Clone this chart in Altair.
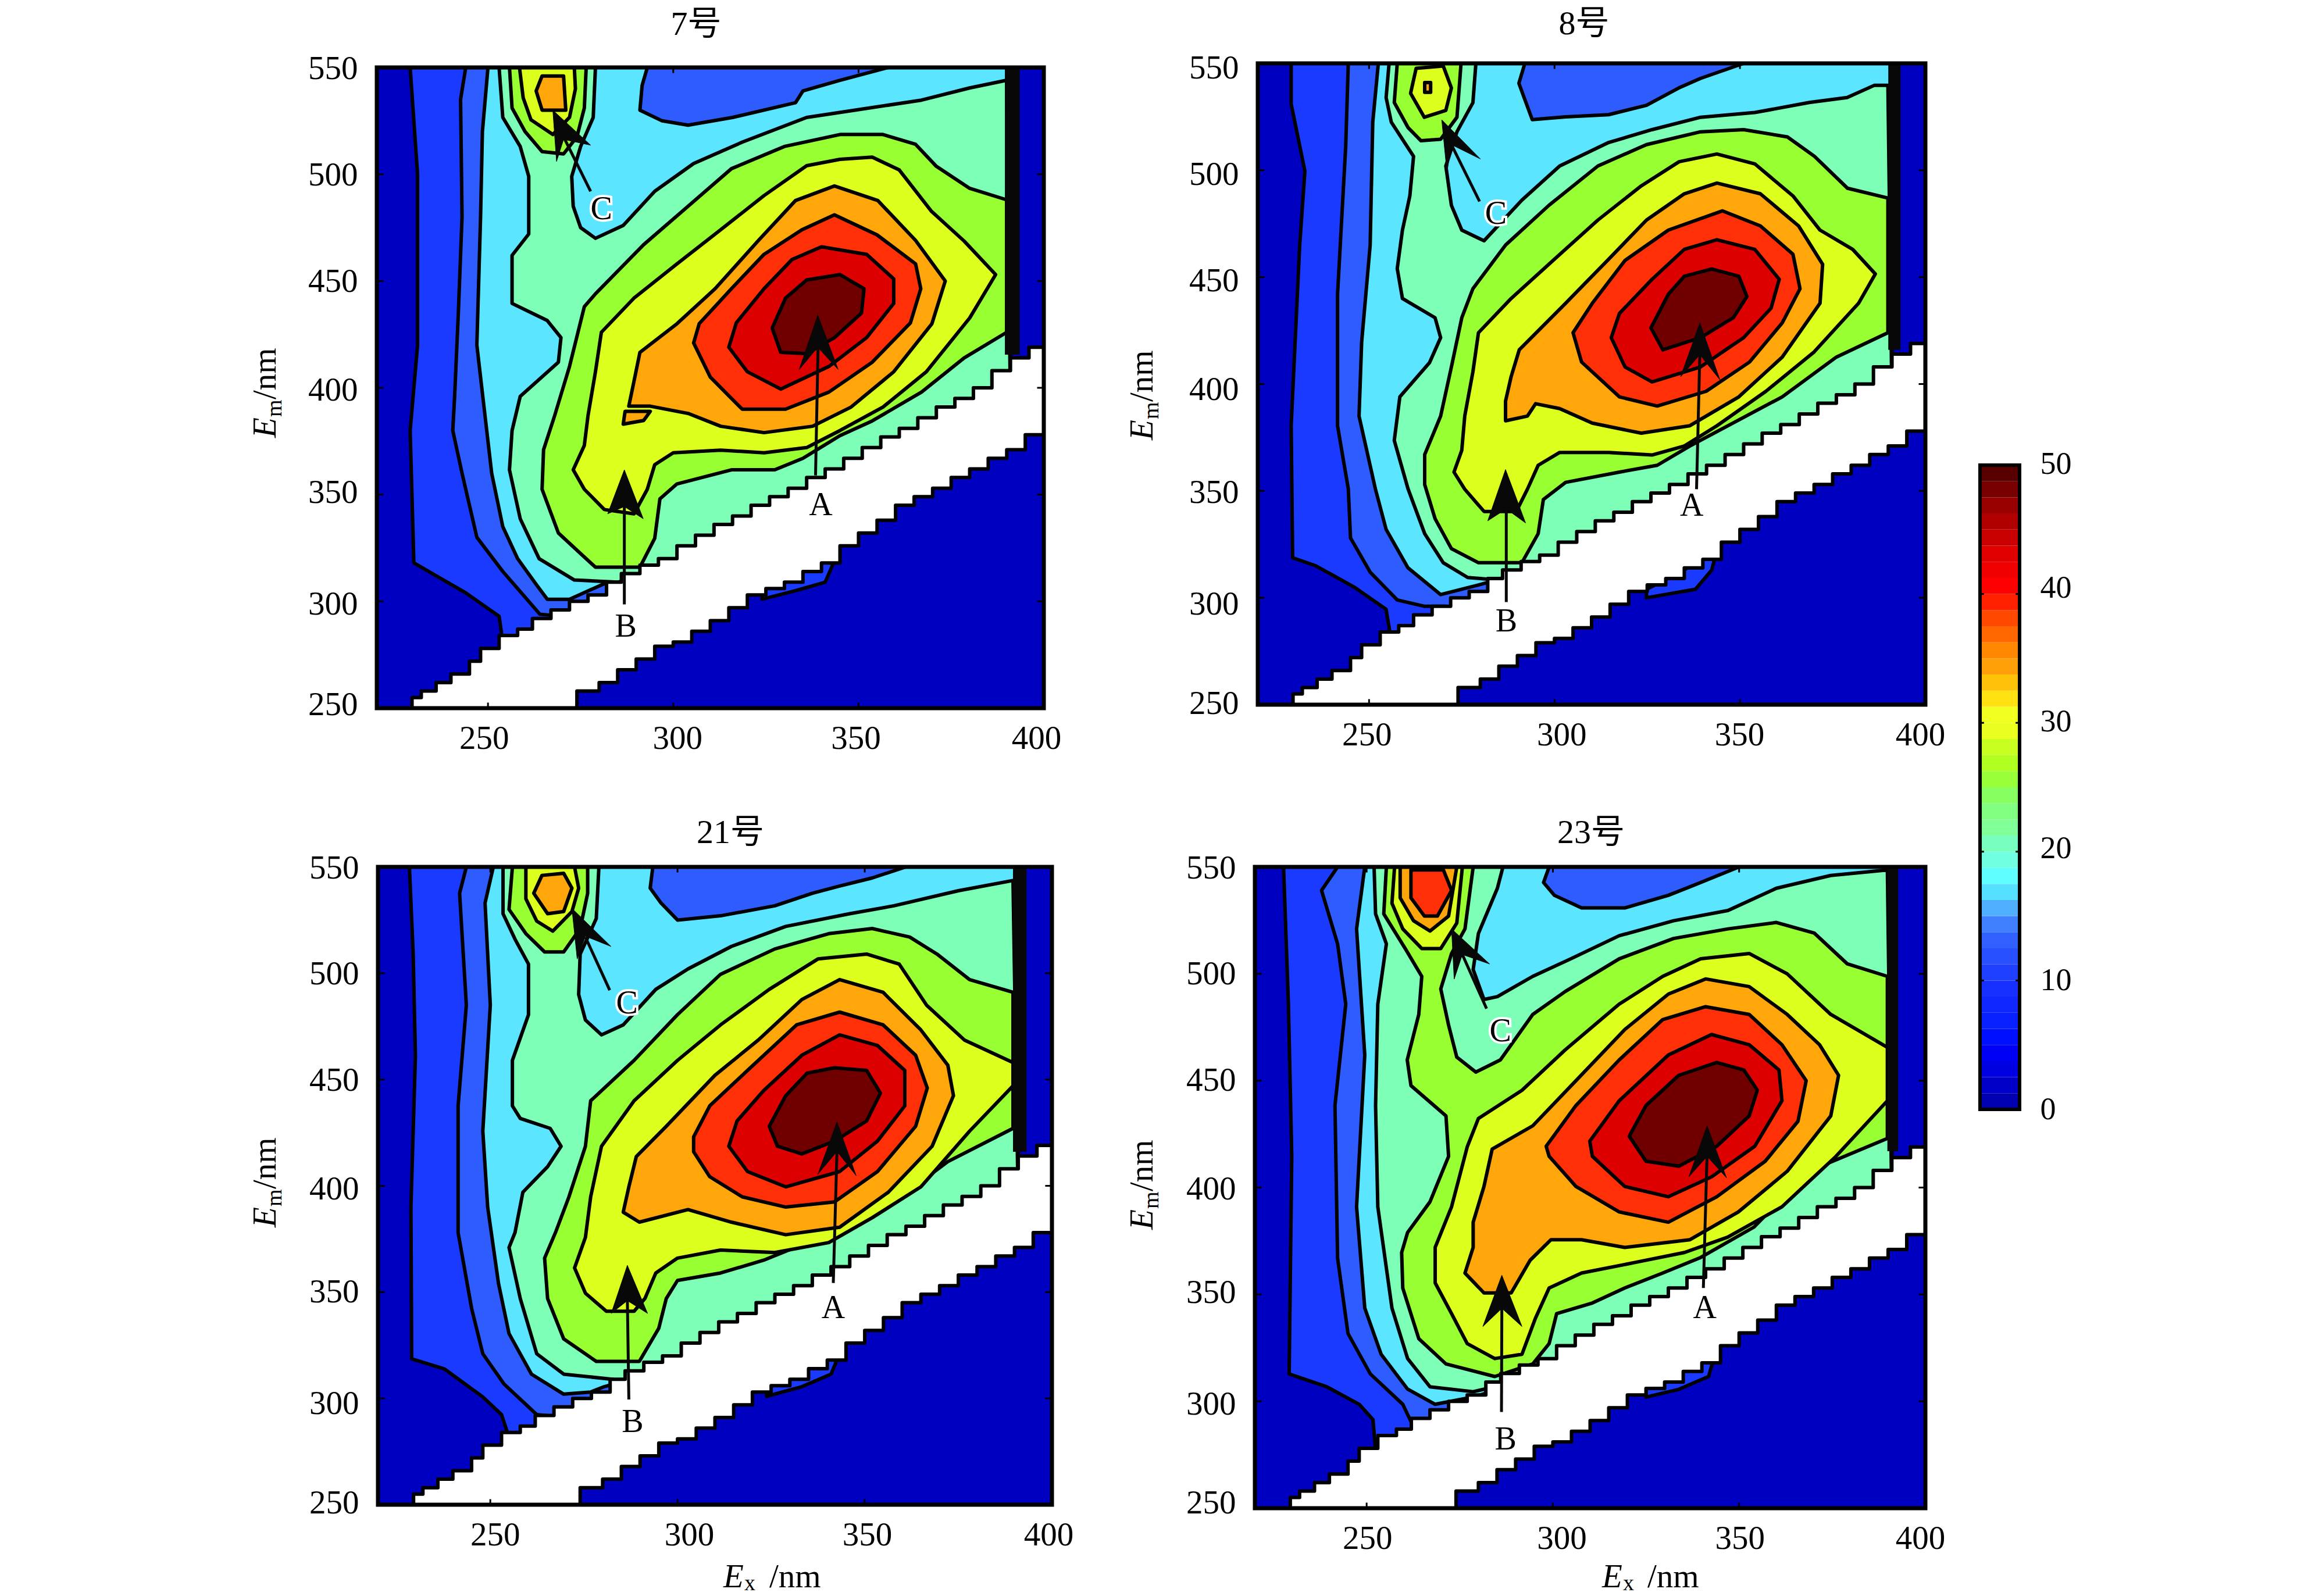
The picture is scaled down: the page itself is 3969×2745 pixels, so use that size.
import altair as alt
import pandas as pd

SERIF = "Liberation Serif"
CJK = "Liberation Serif, Noto Sans CJK SC"
C = ["#0000C0", "#1A3AFF", "#2E5CFF", "#5CE5FF", "#7DFFB8", "#98FF33", "#DCFF1E", "#FFA60A", "#FF3008", "#DC0000", "#700000"]
UNDER = [(275, 280), (340, 335), (391, 390)]

# ---------- band without data (stair corners, shared grid) ----------
upper_x = [229.5,232,236,240,245,248,253,258,262,267,272,277,282,286,291,296,301,306,311,316,321,326,331,336,341,346,351,356,361,366,371,376,381,386,391,396,400]
upper_y = [250,255,258,262,266,272,278,284,287,292,296,300,303,309,313,317,320,326,331,336,340,345,349,353,358,362,367,372,377,381,386,391,395,400,408,414,419]
lower_x = [274,280,285,290,295,300,305,310,315,320,325,330,335,340,345,350,355,360,365,370,375,380,385,390,395,400]
lower_y = [254,258,262,268,273,279,281,286,291,297,303,306,309,314,318,326,332,338,345,349,353,358,362,367,371,378]

# ---------- panel 7 ----------
P7_C1 = [(229,550),(231,500),(231,420),(229,380),(230,318),(244,304),(253,293),(254,281)]
P7_C2 = [(244,550),(242.6,535),(243,480),(242,435),(241,396),(240.5,380),(243,360),(247,330),(254,314),(264,294),(270,293),(276,296)]
P7_C3 = [(250,550),(248.5,520),(248,480),(247,420),(249,390),(251,360),(254,335),(258,320),(263,308),(266,301),(272,301),(281,308)]
P7_PATCH = [(358,550),(345,544),(335,539),(333,533.5),(316,526.6),(304,523),(297,525),(291,530),(291.6,541.6),(293,550)]
P7_C4L = [(253,550),(254,526.6),(258.7,513),(261,499),(261,472),(256.5,462),(256.5,439.5),(266,431.5),(269.7,423.5),(269,412),(258.7,396),(256.5,380),(255.8,361.6),(258.7,338.7),(263.8,320),(273.3,310),(285,309)]
P7_C4R = [(390,544),(380,540.4),(367,534.7),(349,530),(336,526.6),(318.6,515),(305.5,505),(295,492),(286.5,476),(279,470),(275,475),(273,485),(272.6,499),(275,513),(278.4,526.6),(279,550)]
P7_C5 = [(390,488),(380,493.4),(371,503.7),(365.4,514),(356.6,518.6),(345,518.6),(330,513),(315.7,502.6),(304,485),(292,467),(279,444),(276,438),(272,410),(268,387),(265,371),(264.6,352.5),(269,332),(274.8,322.7),(279,316),(291,316),(295,329.5),(296.4,348),(301,355),(315.7,361.6),(327.4,361.6),(335,367),(345,377.6),(353.7,384.5),(367,398),(378.5,414),(390,426)]
P7_C5P = [(255.8,550),(256.5,531),(260,520),(264.6,510.6),(270.4,509.5),(274,517.5),(276,531),(276.5,550)]
P7_C6 = [(353.7,508),(361,502),(369.7,482.6),(378.5,468.7),(387,453),(380,432.7),(368.3,407.5),(356.6,391),(345,380),(336,372),(324.5,369.6),(312.8,370.8),(300,369.6),(295,364),(293,352.5),(289.4,341),(281.4,343),(276,352.5),(273,361.6),(276,373),(277,387),(279,407.5),(280.6,426),(289.4,442),(301,458),(312.8,474),(324.5,490),(336,504),(345,507)]
P7_C6P = [(258.5,550),(259.5,535.8),(261.6,525.5),(267.5,518.6),(272,526.6),(273.6,540),(273.3,550)]
P7_C7 = [(343.5,494.5),(355.2,487.7),(365.4,469),(373.4,450),(369.8,430),(359.5,407.5),(348,391),(337.6,382),(324.5,379),(312.8,382),(304,388),(293.8,391.4),(288,391.4),(289.4,403),(291,416.6),(301,430),(311.3,446.4),(323,469),(333,487.7)]
P7_C7I = [(286.5,383),(292,384.7),(293.8,389),(287,389)]
P7_C7P = [(264.6,546),(270.4,546),(271,530),(264.6,530),(263,539)]
P7_C8 = [(343.5,481),(355,471.6),(365.4,458),(366.8,446.4),(364,430.4),(353.7,412),(342,398),(330.3,390),(318.6,390),(310,405),(305.5,421),(307,430),(315.7,446.4),(324.5,462.5),(334.7,474)]
P7_C9 = [(340,466),(352.2,462.5),(359.5,451),(359.5,439.5),(352.2,423.5),(342,410),(329,399.4),(320,407.5),(315,419),(317,430.4),(324.5,446.4),(332,460)]
P7_C10 = [(336,450.5),(345,453),(351.5,446.4),(350.8,435),(343.5,423.5),(336,416),(329,416.6),(326.7,428),(330.3,442)]
P7_ISLE = [(324,306),(334,314),(344,324),(343,317),(341,309),(333,305),(324,301)]
P7_A = dict(shaft=[(338.4,359),(339.1,421)], head=[(339,434),(334,408.6),(339,419),(344.5,408.6)], lab=(339.8,345))
P7_B = dict(shaft=[(286.8,298.6),(286.8,345)], head=[(286.8,361.6),(282.3,341),(286.8,344.4),(291.9,338.7)], lab=(287.2,288))
P7_K = dict(shaft=[(277.7,492),(270.4,517.5)], head=[(267.5,530),(277.7,513.6),(270.4,516.3),(268.5,506)], lab=(280.6,483.5))

# ---------- panel 8 ----------
P8_C1 = [(229,550),(229,531),(232.7,499.6),(231.3,465),(229,380.5),(229.4,318.7),(235.6,315),(246,305),(254.6,294.6),(255.8,282)]
P8_C2 = [(244.4,550),(243.7,511),(241.5,442),(241.5,380.5),(244.4,351),(245,328),(250.3,312),(257.6,299),(265,296),(270.7,296)]
P8_C3 = [(252.5,550),(251,522.5),(250.3,465),(248,419.5),(247.3,385),(251.7,351),(254.6,332),(260.5,314),(269.3,301.5),(279.5,306)]
P8_PATCH = [(351,550),(339.4,543),(333.5,538.5),(324.8,530.4),(314.6,526),(303,525),(294,523.7),(291.8,534),(290.4,540.7),(292,550)]
P8_C4L = [(255.4,550),(254.6,534),(256,522.5),(262,506.5),(261,488),(259,472),(257.6,454),(259,440),(267.8,431),(269.3,421.7),(266.3,410),(258.3,394),(256.8,373.6),(260.5,351),(265,330),(270,316.4),(276.6,309.5),(284,308.4)]
P8_C4R = [(389.9,539.7),(386.2,539.7),(378.9,534),(368.7,531.7),(354,527),(339.4,524.8),(326.3,519),(314.6,513),(301.4,502),(291.2,486),(281,467),(275,472),(272.2,483.6),(270.7,502),(273.7,518),(278,531.6),(278.8,550)]
P8_C5 = [(389.9,487),(379,491.6),(370.1,506.5),(362.8,515.6),(351,519),(339.4,518),(324.8,512),(311.7,502),(298.5,483.6),(286.8,465),(278,444.6),(275,431),(272.2,408),(269.3,385),(265,367),(265,353),(267.8,337),(272.2,323),(279.5,316.4),(291.2,316.4),(295.6,330),(297,346),(303,354),(317.5,358.8),(327.7,362),(336.5,371),(346.8,380.5),(361.4,394),(376,412.6),(389.9,424)]
P8_C5P = [(257.6,550),(256.8,531.7),(260.5,520),(264,513.8),(269.3,514.5),(273.7,524.8),(274.8,550)]
P8_C6 = [(386.5,451.5),(380.4,463),(371.6,472),(364.3,488),(354,503),(343.8,507.6),(333.6,504),(323.4,492.7),(311.7,476.7),(300,458.4),(288.3,440),(279.5,424),(278,405.7),(275.8,385),(275,369),(272.9,358.8),(275.8,350.8),(281,340.4),(289.7,340.4),(292.7,350.8),(295.6,362),(301.4,368),(314.6,368),(326.3,366.8),(335,371),(343.8,380.5),(357,396.6),(370,415),(382,437.8)]
P8_C6P = [(262.7,547.7),(270,548.8),(272.2,538.5),(270.7,528),(264.9,524.8),(261.2,536)]
P8_C7 = [(343.8,494),(355.5,489),(365.8,474),(372.3,456),(371.6,437.8),(361.4,412.6),(349.7,394),(336.5,380.5),(323.4,377),(310.2,381.7),(301.4,388.5),(294.9,390.8),(292.7,385),(286.8,382.8),(286.8,392),(288.3,403.4),(290.5,416),(303,437.8),(314.6,458.4),(324.8,476.7),(335,489)]
P8_C7P = [(265,541),(266.6,541),(266.6,536.5),(265,536.5)]
P8_C8 = [(345.3,481),(355.5,474),(364.3,460.7),(366.2,444.6),(361.4,428.6),(352.6,410.3),(340.9,396.6),(327.7,389.7),(317.5,394),(307.3,410.3),(305,424),(310.2,437.8),(319,457.8),(330.7,472)]
P8_C9 = [(343.8,467.5),(354,463),(360.6,449),(358.4,435.5),(351,421.7),(339.4,408),(326.3,401),(319,408),(315.3,421.7),(317.5,433),(326.3,449),(335,463)]
P8_C10 = [(342.4,453.8),(349.7,450.4),(351.9,441),(348.2,431),(339.4,421.7),(329.2,416),(326,426.3),(330.7,442),(335,450.4)]
P8_ISLE = [(324.8,304),(335,313),(344,324),(342.4,313),(338,304),(324.8,300)]
P8_A = dict(shaft=[(338.3,350.8),(339.2,415)], head=[(339.2,428.6),(334,403.4),(339.2,413.7),(344.6,402)], lab=(337,343))
P8_B = dict(shaft=[(287,298),(287,342)], head=[(286.8,360),(282,336),(287,341.6),(292.2,335)], lab=(287,289))
P8_K = dict(shaft=[(279.8,485.4),(272.2,512)], head=[(269.6,523.6),(280,505.3),(272.2,512),(271,499)], lab=(284.2,479.5))

# ---------- panel 21 ----------
P21_C1 = [(228.4,550),(229.4,509),(230,461),(228.8,390),(229,318.6),(237.8,313.8),(248,300.7),(253,292.4),(255,281.7)]
P21_C2 = [(243.6,550),(241.8,537.6),(243.6,485),(241.4,437.6),(241.4,378),(245,342.4),(248,321),(253.7,306.7),(262.4,292.4),(269.6,291)]
P21_C3 = [(250.8,550),(248.6,533),(250,485),(248,425.7),(249.3,390),(252.2,354),(255,330.5),(261,311.4),(269.6,302),(276.8,303),(280.4,305.5)]
P21_PATCH = [(361,550),(352,544.8),(343.3,541),(336,537.6),(326,531.7),(311.5,527),(300,525),(295.6,533),(292.7,540),(293.4,550)]
P21_C4L = [(253.4,550),(253.4,528),(256.6,516),(260.2,504.3),(260.2,480.5),(255.9,459),(255.9,437.6),(258,431.7),(266,427),(268.9,418.6),(265.3,409),(258.7,397),(256.6,378),(255,371),(258,347),(262.4,321),(269.6,311.4),(282.6,309),(291,305)]
P21_C4R = [(389.6,543.6),(375,538.8),(357.8,531.7),(346,528),(328.9,522),(314.4,512.6),(302.8,502),(294.2,492.4),(285.5,475.7),(279.7,471),(275.4,478),(273.6,490),(274,509),(278.3,525.7),(279,550)]
P21_C5 = [(389.6,491),(378,497),(369.3,509),(362,517),(352,521),(340.4,518.6),(326,511.4),(311.5,499.5),(300,480.5),(288.4,459),(276.8,440),(275.4,418.6),(271,394.8),(267.4,378),(264.5,366),(265.3,347),(269.6,328),(278.3,317.4),(289.8,317.4),(295,333),(297,347),(300,355.5),(311.5,359),(323,365),(334.6,373.3),(344.8,380.5),(357.8,392.4),(372.2,411.4),(389.6,427)]
P21_C5P = [(255.9,550),(255,530),(259.5,518.6),(264.5,510),(269.6,510),(274,521),(276,537.6),(276,550)]
P21_C6 = [(350.5,509),(359.2,504.3),(366.5,485),(376.6,468.6),(389.6,458),(389.6,447),(378,425.7),(365,399.5),(352,385),(340.4,373.3),(326,368.6),(311.5,369.8),(300,366),(294.2,359),(291.3,347),(288.4,341),(281,341),(275.4,349.5),(272.5,361.4),(275.4,375.7),(276.8,394.8),(279.7,418.6),(288.4,440),(300,459),(311.5,475.7),(324.5,492.4),(337.5,506.7)]
P21_C6P = [(259.5,550),(259.5,535),(262.4,524.5),(266.7,519.8),(271.8,529),(273.6,540),(272.5,550)]
P21_C7 = [(343.3,497),(354.9,491),(365,473.3),(372.2,456.7),(373.7,442.4),(368,418.6),(356.3,397),(343.3,380.5),(328.9,377),(314.4,382.9),(302.8,388.8),(289.8,382.9),(285.5,387.6),(287,399.5),(289,413.8),(297,428),(310,452),(321.6,468.6),(333.2,487.6)]
P21_C7P = [(263.8,546),(269.6,547),(271.8,540),(269.6,529),(265.3,528),(261.6,537.6)]
P21_C8 = [(343.3,481.7),(354.9,475.7),(363.6,461.4),(366.7,446),(363.6,428),(353.4,406.7),(341.9,392.4),(328.9,390),(317.3,394.8),(308.6,404.3),(304.3,416),(304.3,423),(308.6,437.6),(318.7,454.3),(331.8,475.7)]
P21_C9 = [(343.3,471),(353.4,466),(360.7,454.3),(360.7,437.6),(353.4,421),(343.3,406.7),(328.9,399.5),(318.7,406.7),(313.7,418.6),(315.9,430.5),(323,444.8),(333.2,461.4)]
P21_C10 = [(341.9,455.5),(350.5,454.3),(354.2,443.6),(350.5,430.5),(341.9,421),(333.2,415),(326.7,418.6),(324.5,428),(328.9,442.4),(334.6,453)]
P21_ISLE = [(323.8,306),(335,314),(344,324),(341,311.4),(333.2,305.5),(323.8,301)]
P21_A = dict(shaft=[(341.6,354.3),(342.6,417)], head=[(342.6,430),(337.5,405.5),(342.6,416.2),(347.7,404.8)], lab=(341.6,342.4))
P21_B = dict(shaft=[(287,299.5),(286.6,347)], head=[(286.6,362.6),(282.3,340),(286.6,346),(292,340)], lab=(288,288.8))
P21_K = dict(shaft=[(281.9,492),(275.4,517)], head=[(271.8,530.5),(282.2,512.6),(275.4,517.4),(273.2,506.7)], lab=(286.5,485.7))

# ---------- panel 23 ----------
P23_C1 = [(227.7,550),(229,485.8),(229.9,414.6),(229.2,312.8),(239.3,306.8),(248,298.6),(251.7,291.5),(252.4,277)]
P23_C2 = [(242.2,550),(237.9,539),(242.2,514),(244.4,485.8),(241.5,438.4),(242.2,367),(245,331.7),(251,312.8),(259.7,298.6),(262.6,288),(268.4,291.5)]
P23_C3 = [(249.5,550),(247.3,521),(249.5,462),(247.3,391),(249.5,343.6),(253.9,322),(261,305.7),(268.4,298.6),(278.6,302)]
P23_PATCH = [(350,550),(339.7,542.7),(331,536.7),(319.3,530.8),(307.7,530.8),(300.4,536.7),(297.5,542.7),(299,550)]
P23_C4L = [(252,550),(252.4,528),(255.3,514),(253,485.8),(252.4,438.4),(253,391),(256.8,343.6),(261,320),(267,306.8),(278.6,304.5),(287.3,308)]
P23_C4R = [(389.8,548.6),(374.6,546),(360,540),(347,529.6),(332.4,524.8),(317.8,517.8),(304.8,507),(294.6,498.8),(285.1,489.3),(281.5,488),(278.6,502),(280,518.8),(285.1,540),(286.6,550)]
P23_C5 = [(255.3,550),(254.6,528),(260.4,511.7),(264.8,498.8),(264,481),(260.9,459.7),(261.9,447.7),(271.3,433.5),(272,414.6),(267,393.3),(261,379),(259.4,369.6),(259.7,353),(264,329.3),(271.3,317.5),(284.4,311.6),(294.6,317.5),(299,327),(301,341),(310.6,346),(319.3,353),(329.5,360),(339.7,367.3),(354,381.5),(368.7,407.6),(389.8,423),(389.8,498.8),(379,504.7),(370.2,519),(360,524),(347,521),(332.4,516.5),(317.8,507),(303.3,491.7),(294.6,481),(285.9,459.7),(279.3,454),(274.2,461),(272,476),(269.9,492.9),(272.8,509.5),(276.4,521),(278.6,550)]
P23_C6 = [(339.7,507),(352.7,509.5),(362.9,500),(374.6,481),(389.8,465.6),(389.8,440.6),(376,414.6),(361.5,391),(346.9,376.8),(335.3,369.6),(322.2,365),(307.7,360),(299,353),(295.3,338.8),(291.7,322),(284.4,320),(277,327),(272.8,341),(268.4,355.4),(268.4,372),(272.8,391),(277,419),(280,432.3),(291.7,445.5),(303.3,464.4),(317.8,485.8),(329.5,498.8)]
P23_C6P = [(257.5,550),(256.8,533),(259.7,521),(264.8,511.8),(269.9,511.8),(274.2,523.7),(275.7,550)]
P23_C7 = [(341,497.6),(352.7,494),(362.9,481),(371.6,466.8),(376.7,452.5),(374.6,433.5),(362.9,407.6),(349.8,388.6),(336.8,375.6),(319.3,372),(307.7,375.6),(299.5,375.6),(293.9,366),(288.8,350.7),(281.5,350.7),(276.4,360),(278.6,372),(278.6,383.8),(281.5,400.5),(283.7,418),(294.6,428.9),(306.2,450),(319.3,473.9),(331,490.5)]
P23_C7P = [(259,550),(259,535.5),(262.6,524.8),(267,520),(272,527),(274.2,550)]
P23_C8 = [(341,484.6),(352.7,481),(361.5,466.8),(368,450),(365.8,431),(357,412.3),(344,395.7),(331,383.8),(317.8,388.6),(306.2,400.5),(299,414.6),(298.2,419.3),(306.2,438.4),(317.8,459.7),(329.5,478.6)]
P23_C8P = [(261.9,548.6),(270.6,548.6),(272.8,539),(269,527),(265.5,527),(261.9,535.5)]
P23_C9 = [(342.6,471.6),(352.7,466.8),(360.7,455),(361.5,440.6),(354.2,419.3),(342.6,405),(331,395.7),(319.3,400.5),(310.6,414.6),(309.9,421.7),(317.8,440.6),(331,462)]
P23_C10 = [(344,458.5),(351.3,455),(354.9,445.5),(352.7,433.5),(344,419.3),(333.8,410),(325,412.3),(320.5,424),(325,438.4),(333.8,452.5)]
P23_ISLE = [(325,307),(335,314),(344,325),(341.8,311.6),(333.8,305.6),(325,302)]
P23_A = dict(shaft=[(340.4,353),(341.4,416)], head=[(341.4,428.8),(336.5,405),(341.4,414.6),(346.6,404.6)], lab=(340.8,343.5))
P23_B = dict(shaft=[(286.2,295),(286.3,345)], head=[(286.3,359),(281.2,335),(286.3,343.5),(291.7,335)], lab=(287.3,282))
P23_K = dict(shaft=[(282.2,483.7),(275.7,509)], head=[(272.8,521),(283,504.6),(275.7,509),(273.5,497.5)], lab=(285.9,473))

# colour bar
cb_colors = ["#0000B0","#0000C8","#0000E0","#0000F5","#0010FF","#0820FF","#1028FF","#1830FF",
             "#2040FF","#2850FF","#3060FF","#4080FF","#50B0FF","#55E0FF","#60FFFF","#70FFE0",
             "#78FFC0","#80FF99","#80FF80","#88FF60","#98FF38","#B0FF20","#C8FF20","#E8FF20",
             "#F0FF20","#FFE010","#FFC008","#FFA008","#FF8800","#FF6800","#FF4800","#FF2000",
             "#FF0000","#F00000","#E00000","#C80000","#B00000","#980000","#780000","#580000"]

W, H, M = 3953, 2737, 8
LBL = "datum.value=={}?{}:datum.value=={}?{}:datum.value=={}?{}:{}"


def x_expr(a, b, c, d):
    return {"expr": LBL.format(250, a, 300, b, 350, c, d)}


def y_expr(vals):
    e = str(vals[-1])
    for v, o in zip([550, 500, 450, 400, 350, 300], vals[:-1]):
        e = f"datum.value=={v}?{o}:" + e
    return {"expr": e}


def with_under(left, tail):
    return left + [p for p in UNDER if p[0] > left[-1][0]] + tail


def stair(xs, ys):
    out = [(xs[0], ys[0])]
    for i in range(1, len(xs)):
        out.append((xs[i - 1], ys[i]))
        out.append((xs[i], ys[i]))
    return out


def panel(frame, xoff, yoff, polys, isle, strip, arrows):
    L, R, T, B = frame
    sx = alt.Scale(domain=[220, 400], range=[L - M, R - M], nice=False, zero=False)
    sy = alt.Scale(domain=[250, 550], range=[B - M, T - M], nice=False, zero=False)
    ax = alt.Axis(values=[250, 300, 350, 400], labelFont=SERIF, labelFontSize=57, labelColor="black",
                  domain=False, ticks=False, grid=False, title=None, orient="bottom",
                  offset=B - M - H, labelPadding=52, labelOverlap=False, labelFlush=False,
                  labelBaseline="middle", labelOffset=x_expr(*xoff))
    ay = alt.Axis(values=[250, 300, 350, 400, 450, 500, 550], labelFont=SERIF, labelFontSize=57,
                  labelColor="black", domain=False, ticks=False, grid=False, title=None, orient="left",
                  offset=-(L - M), labelPadding=33, labelOverlap=False, labelFlush=False,
                  labelOffset=y_expr(yoff))
    X = alt.X("x:Q", scale=sx, axis=ax)
    Y = alt.Y("y:Q", scale=sy, axis=ay)
    box = pd.DataFrame({"x": [220], "x2": [400], "y": [250], "y2": [550]})
    layers = [alt.Chart(box).mark_rect(color=C[0]).encode(x=X, x2="x2:Q", y=Y, y2="y2:Q")]

    def poly(pts, fill, stroke="black", sw=6):
        d = pd.DataFrame(pts, columns=["x", "y"])
        d["i"] = range(len(d))
        return alt.Chart(d).mark_line(fill=fill, stroke=stroke, strokeWidth=sw, interpolate="linear-closed",
                                      strokeJoin="round").encode(x=X, y=Y, order="i:Q")

    for lev, pts in polys:
        layers.append(poly(pts, C[lev]))
    layers.append(poly(isle, C[1]))
    band = [(lower_x[0], 250)] + stair(lower_x, lower_y) + [(400, upper_y[-1])] + list(reversed(stair(upper_x, upper_y)))
    layers.append(poly(band, "#FFFFFF"))
    sd = pd.DataFrame({"x": [strip[0]], "x2": [strip[1]], "y": [strip[2]], "y2": [550]})
    layers.append(alt.Chart(sd).mark_rect(color="#080808").encode(x=X, x2="x2:Q", y=Y, y2="y2:Q"))
    for name, arrow in arrows.items():
        sh = pd.DataFrame(arrow["shaft"], columns=["x", "y"])
        layers.append(alt.Chart(sh).mark_line(color="#080808", strokeWidth=5).encode(x=X, y=Y))
        layers.append(poly(arrow["head"], "#080808", "#080808", 1))
        lab = pd.DataFrame({"x": [arrow["lab"][0]], "y": [arrow["lab"][1]], "t": [name]})
        if name == "C":
            layers.append(alt.Chart(lab).mark_text(font=SERIF, fontSize=56, stroke="white", strokeWidth=8,
                                                   color="white").encode(x=X, y=Y, text="t:N"))
        layers.append(alt.Chart(lab).mark_text(font=SERIF, fontSize=56, color="black").encode(x=X, y=Y, text="t:N"))
    # inward ticks on all four sides
    tx = pd.DataFrame({"x": [250, 300, 350] * 2, "y": [250] * 3 + [550] * 3, "y2": [252.6] * 3 + [547.4] * 3})
    layers.append(alt.Chart(tx).mark_rule(color="black", strokeWidth=3).encode(x=X, y=Y, y2="y2:Q"))
    ty = pd.DataFrame({"y": [300, 350, 400, 450, 500] * 2, "x": [220] * 5 + [400] * 5, "x2": [221.8] * 5 + [398.2] * 5})
    layers.append(alt.Chart(ty).mark_rule(color="black", strokeWidth=3).encode(x=X, x2="x2:Q", y=Y))
    layers.append(alt.Chart(box).mark_rect(filled=False, stroke="black", strokeWidth=7).encode(x=X, x2="x2:Q", y=Y, y2="y2:Q"))
    return alt.layer(*layers)


def build(L1, L2, L3, patch, c4l, c4r, rest):
    return [(1, with_under(L1, [(391, 550)])), (2, with_under(L2, [(391, 550)])),
            (3, with_under(L3, [(391, 550)]) + patch), (4, with_under(c4l, c4r))] + rest


p7 = panel((648, 1795, 116, 1218), (-7, 7, -5, -13), (2, 2, 1, 4, -3, 5, -6),
           build(P7_C1, P7_C2, P7_C3, P7_PATCH, P7_C4L, P7_C4R,
                 [(5, P7_C5), (5, P7_C5P), (6, P7_C6), (6, P7_C6P), (7, P7_C7), (7, P7_C7I), (7, P7_C7P),
                  (8, P7_C8), (9, P7_C9), (10, P7_C10)]),
           P7_ISLE, (389.5, 393.5, 415.5), {"A": P7_A, "B": P7_B, "C": P7_K})
p8 = panel((2163, 3311, 109, 1212), (-4, 12, -1, -9), (8, 8, 7, 10, 3, 11, -2),
           build(P8_C1, P8_C2, P8_C3, P8_PATCH, P8_C4L, P8_C4R,
                 [(5, P8_C5), (5, P8_C5P), (6, P8_C6), (6, P8_C6P), (7, P8_C7), (7, P8_C7P),
                  (8, P8_C8), (9, P8_C9), (10, P8_C10)]),
           P8_ISLE, (390, 393.3, 416), {"A": P8_A, "B": P8_B, "C": P8_K})
p21 = panel((650, 1809, 1491, 2588), (8, 20, 4, -6), (2, 2, 2, 6, 0, 9, -3),
            build(P21_C1, P21_C2, P21_C3, P21_PATCH, P21_C4L, P21_C4R,
                  [(5, P21_C5), (5, P21_C5P), (6, P21_C6), (6, P21_C6P), (7, P21_C7), (7, P21_C7P),
                   (8, P21_C8), (9, P21_C9), (10, P21_C10)]),
            P21_ISLE, (389.6, 393.2, 416), {"A": P21_A, "B": P21_B, "C": P21_K})
p23 = panel((2158, 3311, 1491, 2594), (1, 15, 1, -9), (2, 1, 0, 3, -3, 5, -9),
            build(P23_C1, P23_C2, P23_C3, P23_PATCH, P23_C4L, P23_C4R,
                  [(5, P23_C5), (6, P23_C6), (6, P23_C6P), (7, P23_C7), (7, P23_C7P), (8, P23_C8), (8, P23_C8P),
                   (9, P23_C9), (10, P23_C10)]),
            P23_ISLE, (389.8, 392.7, 417), {"A": P23_A, "B": P23_B, "C": P23_K})

# colour bar
cb = pd.DataFrame({"v0": [i * 1.25 for i in range(40)], "v1": [(i + 1) * 1.25 for i in range(40)], "c": cb_colors,
                   "a": [0] * 40, "b": [1] * 40})
csx = alt.Scale(domain=[0, 1], range=[3405 - M, 3473 - M], nice=False, zero=False)
csy = alt.Scale(domain=[0, 50], range=[1908 - M, 800 - M], nice=False, zero=False)
cax = alt.Axis(values=[0, 10, 20, 30, 40, 50], labelFont=SERIF, labelFontSize=54, labelColor="black", domain=False,
               ticks=False, grid=False, title=None, orient="right", offset=-(W - (3473 - M)), labelPadding=35,
               labelOverlap=False, labelFlush=False, labelAlign="left",
               labelOffset={"expr": "datum.value==50?-2:datum.value==40?-10:datum.value==30?-2:datum.value==20?-5:0"})
CY = alt.Y("v0:Q", scale=csy, axis=cax)
CX = alt.X("a:Q", scale=csx, axis=None)
cbar = alt.layer(
    alt.Chart(cb).mark_rect().encode(x=CX, x2="b:Q", y=CY, y2="v1:Q", fill=alt.Fill("c:N", scale=None)),
    alt.Chart(pd.DataFrame({"v0": [10, 20, 30, 40] * 2, "a": [0] * 4 + [1] * 4, "b": [0.1] * 4 + [0.9] * 4}))
    .mark_rule(color="black", strokeWidth=3)
    .encode(x=CX, x2="b:Q", y=CY),
    alt.Chart(pd.DataFrame({"a": [0], "b": [1], "v0": [0], "v1": [50]}))
    .mark_rect(filled=False, stroke="black", strokeWidth=6)
    .encode(x=CX, x2="b:Q", y=CY, y2="v1:Q"),
)


def text(s, x, y, size=57, style="normal", angle=0, align="left", font=SERIF):
    return alt.Chart(pd.DataFrame({"t": [s]})).mark_text(
        font=font, fontSize=size, fontStyle=style, angle=angle, align=align, baseline="alphabetic", color="black"
    ).encode(x=alt.value(x - M), y=alt.value(y - M), text="t:N")


labels = []
for s, x, y in [("7号", 1197, 60), ("8号", 2724, 59), ("21号", 1256, 1450), ("23号", 2736, 1450)]:
    labels.append(text(s, x, y, size=58, align="center", font=CJK))
for base, bottom in [(474, 753), (1982, 757), (474, 2111), (1982, 2115)]:
    labels.append(text("E", base, bottom, style="italic", angle=270))
    labels.append(text("m", base + 10, bottom - 36, size=38, angle=270))
    labels.append(text("/nm", base, bottom - 66, angle=270))
for start, slash in [(1244, 1323), (2755, 2833)]:
    labels.append(text("E", start, 2730, style="italic"))
    labels.append(text("x", start + 36, 2735, size=38))
    labels.append(text("/nm", slash, 2730))

chart = (
    alt.layer(p7, p8, p21, p23, cbar, *labels)
    .resolve_scale(x="independent", y="independent")
    .resolve_axis(x="independent", y="independent")
    .properties(width=W, height=H, padding=0, autosize=alt.AutoSizeParams(type="none"), background="white")
    .configure_view(stroke=None)
)
chart.save("out.html", embed_options={"renderer": "svg", "actions": False})
